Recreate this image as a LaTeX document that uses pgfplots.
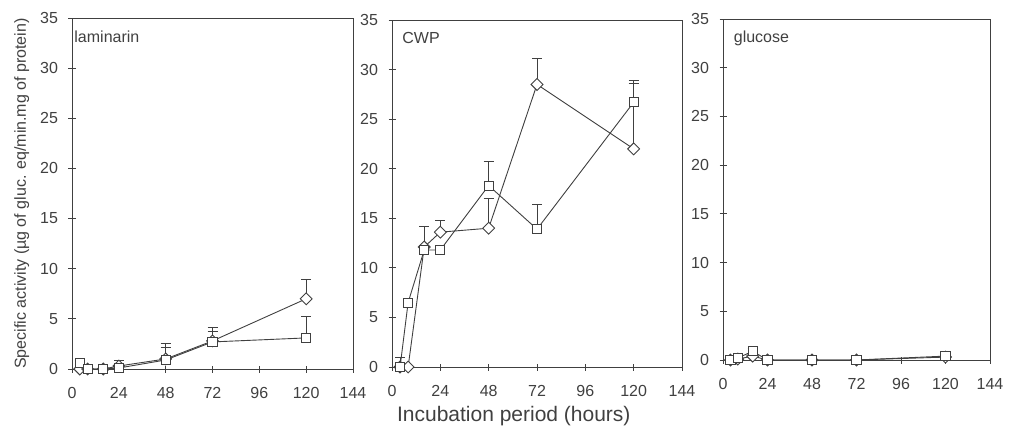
\documentclass[border=0pt]{standalone}
\usepackage{fontspec}
\setmainfont{Liberation Sans}
\usepackage{pgfplots}
\pgfplotsset{compat=1.18}

\definecolor{ink}{gray}{0.25}

\pgfplotsset{
  panel/.style={
    scale only axis,
    anchor=south west,
    xmin=0, xmax=144, ymin=0, ymax=35,
    xtick={0,24,...,144}, ytick={0,5,...,35},
    xtick pos=bottom, ytick pos=left,
    tick align=center,
    major tick length=7pt,
    axis line style={ink, line width=0.9pt},
    tick style={ink, line width=0.9pt},
    tick label style={font=\fontsize{16}{19}\selectfont, text=ink},
    xticklabel style={yshift=-11pt},
    yticklabel style={xshift=-7pt},
    /pgf/number format/assume math mode=true,
    clip=false,
  },
  ser/.style={
    ink, line width=0.9pt,
    error bars/y dir=plus, error bars/y explicit,
    error bars/error mark=-,
    error bars/error mark options={ink, rotate=90, mark size=5pt, line width=0.9pt},
    error bars/error bar style={ink, line width=0.9pt},
  },
  diam/.style={ser, mark=square*, mark size=4.2pt, mark options={rotate=45, fill=white, solid}},
  sq/.style={ser, mark=square*, mark size=4.6pt, mark options={fill=white, solid}},
}
\tikzset{plab/.style={font=\fontsize{16}{19}\selectfont, text=ink, anchor=north west, inner sep=0pt}}

\begin{document}
\begin{tikzpicture}
\useasboundingbox (0pt,0pt) rectangle (1010pt,429pt);

% laminarin
\begin{axis}[panel, at={(72pt,60pt)}, width=281pt, height=351pt,
  ylabel={Specific activity (µg of gluc. eq/min.mg of protein)},
  ylabel style={font=\fontsize{16}{19}\selectfont, text=ink, yshift=4pt}]
\addplot[diam] coordinates {
  (4,0) +- (0,0) (8,0) +- (0,0) (16,0) +- (0,0) (24,0.3) +- (0,0.6)
  (48,1.0) +- (0,1.5) (72,2.8) +- (0,1.3) (120,7.0) +- (0,1.9)};
\addplot[sq] coordinates {
  (4,0.6) +- (0,0.4) (8,0) +- (0,0) (16,0) +- (0,0) (24,0.1) +- (0,0)
  (48,0.9) +- (0,1.2) (72,2.7) +- (0,1.0) (120,3.1) +- (0,2.1)};
\node[plab] at (axis description cs:0.008,0.965) {laminarin};
\end{axis}

% CWP
\begin{axis}[panel, at={(392pt,62pt)}, width=290pt, height=347pt,
  xlabel={Incubation period (hours)},
  xlabel style={font=\fontsize{21}{24}\selectfont, text=ink,
    at={(axis description cs:0.42,0)}, anchor=center, yshift=-49pt}]
\addplot[diam] coordinates {
  (4,0) +- (0,0) (8,0) +- (0,0) (16,12.1) +- (0,2.1) (24,13.6) +- (0,1.2)
  (48,14.0) +- (0,3.0) (72,28.5) +- (0,2.6) (120,22.0) +- (0,6.6)};
\addplot[sq] coordinates {
  (4,0) +- (0,1.0) (8,6.5) +- (0,0) (16,11.8) +- (0,0) (24,11.8) +- (0,0)
  (48,18.3) +- (0,2.4) (72,13.9) +- (0,2.5) (120,26.7) +- (0,2.2)};
\node[plab] at (axis description cs:0.035,0.965) {CWP};
\end{axis}

% glucose
\begin{axis}[panel, at={(723pt,69pt)}, width=267pt, height=341pt]
\addplot[diam] coordinates {
  (4,0) +- (0,0) (8,0.1) +- (0,0) (16,0.4) +- (0,0) (24,0) +- (0,0)
  (48,0) +- (0,0) (72,0) +- (0,0) (120,0.3) +- (0,0)};
\addplot[sq] coordinates {
  (4,0) +- (0,0) (8,0.2) +- (0,0) (16,0.9) +- (0,0.3) (24,0) +- (0,0)
  (48,0) +- (0,0) (72,0) +- (0,0) (120,0.4) +- (0,0.2)};
\node[plab] at (axis description cs:0.04,0.965) {glucose};
\end{axis}
\end{tikzpicture}
\end{document}
